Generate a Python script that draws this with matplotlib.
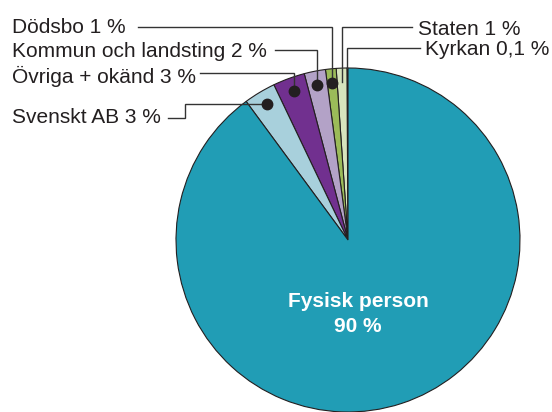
import numpy as np
import matplotlib.pyplot as plt

plt.rcParams['font.family'] = ['Liberation Sans', 'DejaVu Sans']

# owner categories, drawn counterclockwise from 12 o'clock
labels = ['Kyrkan', 'Staten', 'Dödsbo', 'Kommun och landsting',
          'Övriga + okänd', 'Svenskt AB', 'Fysisk person']
shares = [0.1, 1, 1, 2, 3, 3, 90]
share_text = ['0,1', '1', '1', '2', '3', '3', '90']
colors = ['#5a5a5a', '#d7e4bd', '#9bbb59', '#b3a2c7',
          '#71308f', '#a8d0dc', '#219db5']

W, H = 552, 412
fig = plt.figure(figsize=(W / 100, H / 100), dpi=100)
ax = fig.add_axes([0, 0, 1, 1])

cx, cy, r = 348, H - 240, 172
wedges, _ = ax.pie(shares, colors=colors, startangle=90, counterclock=True,
                   center=(cx, cy), radius=r, frame=True,
                   wedgeprops=dict(edgecolor='#231f20', linewidth=0.8))
ax.set_xlim(0, W)
ax.set_ylim(0, H)
ax.set_aspect('equal')
ax.axis('off')

LINE = dict(color='#333333', lw=1.0, solid_joinstyle='miter')
FS = 15
DOT = dict(ms=7.5, color='#231f20')


def anchor(i, frac):
    w = wedges[i]
    t = np.deg2rad((w.theta1 + w.theta2) / 2)
    return cx + frac * r * np.cos(t), cy + frac * r * np.sin(t)


def label(i):
    return f'{labels[i]} {share_text[i]} %'


# left side labels with dots: (index, text baseline, line y, line start x)
left = [(2, 33, 27, 138), (3, 57, 50, 275), (4, 83, 73, 200)]
for i, base, ly, lx in left:
    x, y = anchor(i, 0.92)
    ax.text(12, H - base, label(i), fontsize=FS, color='#231f20', va='baseline')
    ax.plot([lx, x, x], [H - ly, H - ly, y], **LINE)
    ax.plot(x, y, 'o', **DOT)

# Svenskt AB has a stepped leader
x, y = anchor(5, 0.92)
ax.text(12, H - 123, label(5), fontsize=FS, color='#231f20', va='baseline')
ax.plot([168, 185, 185, x], [H - 118, H - 118, y, y], **LINE)
ax.plot(x, y, 'o', **DOT)

# right side labels without dots
right = [(1, 418, 35, 27, 412, 0.92), (0, 425, 55, 48, 420, 1.0)]
for i, tx, base, ly, lx, frac in right:
    x, y = anchor(i, frac)
    ax.text(tx, H - base, label(i), fontsize=FS, color='#231f20', va='baseline')
    ax.plot([lx, x, x], [H - ly, H - ly, y], **LINE)

ax.text(358, H - 307, labels[6], fontsize=FS, fontweight='bold',
        color='white', ha='center', va='baseline')
ax.text(358, H - 332, f'{share_text[6]} %', fontsize=FS, fontweight='bold',
        color='white', ha='center', va='baseline')

fig.savefig('out.png', dpi=100, facecolor='white')
